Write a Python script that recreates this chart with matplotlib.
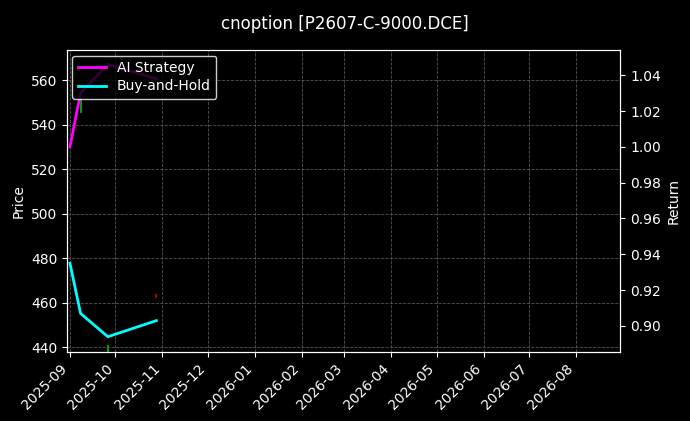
import matplotlib
matplotlib.use("Agg")
import matplotlib.pyplot as plt
import matplotlib.dates as mdates
import numpy as np

BG = "#000000"; FG = "#ffffff"; GRID = "#555555"

dates = np.array(["2025-09-01", "2025-09-08", "2025-09-26", "2025-10-28"], dtype="datetime64[D]")
ai_strategy = [1.000, 1.030, 1.046, 1.038]
buy_hold = [0.935, 0.907, 0.894, 0.903]

candle_dates = np.array(["2025-09-08", "2025-09-26", "2025-10-28"], dtype="datetime64[D]")
c_open = [545, 438, 464]
c_close = [552, 441, 462]
c_color = ["#00c000", "#00c000", "#e00000"]

fig = plt.figure(figsize=(6.9, 4.21), dpi=100, facecolor=BG)
ax = fig.add_axes([0.097, 0.164, 0.802, 0.717], facecolor=BG)
ax2 = ax.twinx()

for d, o, c, col in zip(candle_dates, c_open, c_close, c_color):
    ax.vlines(d, min(o, c), max(o, c), color=col, lw=1.2)

ax.set_ylim(437.8, 573.5)
ax.set_yticks(range(440, 561, 20))
ax.set_xlim(np.datetime64("2025-08-30"), np.datetime64("2026-08-30"))
ax.xaxis.set_major_locator(mdates.MonthLocator())
ax.xaxis.set_major_formatter(mdates.DateFormatter("%Y-%m"))
plt.setp(ax.get_xticklabels(), rotation=45, ha="right")
ax.set_ylabel("Price", color=FG)
ax.grid(True, color=GRID, ls="--", lw=0.6)

ax2.plot(dates, ai_strategy, color="#ff00ff", lw=2, label="AI Strategy")
ax2.plot(dates, buy_hold, color="#00ffff", lw=2, label="Buy-and-Hold")
ax2.set_ylim(0.8855, 1.054)
ax2.set_yticks(np.arange(0.90, 1.041, 0.02))
ax2.set_ylabel("Return", color=FG)

for a in (ax, ax2):
    a.tick_params(colors=FG)
    for s in a.spines.values():
        s.set_color(FG)

ax2.legend(loc="upper left", facecolor=BG, edgecolor=FG, labelcolor=FG,
           borderaxespad=0.4, labelspacing=0.3)
fig.suptitle("cnoption [P2607-C-9000.DCE]", color=FG, fontsize=12, y=0.965)
fig.savefig("out.png", dpi=100, facecolor=BG)
